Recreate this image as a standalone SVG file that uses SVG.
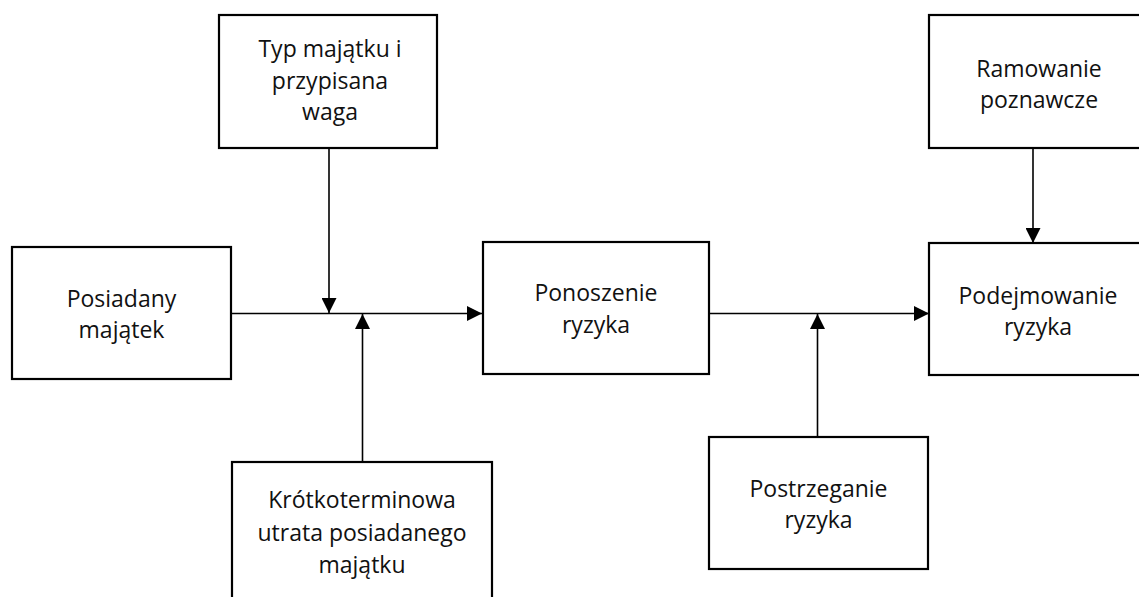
<svg xmlns="http://www.w3.org/2000/svg" width="1139" height="597" viewBox="0 0 1139 597">
  <style>
    .box { fill: #ffffff; stroke: #000000; stroke-width: 2.2; }
    .lbl { font-family: "Open Sans", "Noto Sans", "Liberation Sans", sans-serif; font-size: 23px; fill: #111111; text-anchor: middle; }
    .edge { fill: none; stroke: #000000; stroke-width: 1.6; }
  </style>
  <defs>
    <marker id="arrow" viewBox="0 0 15 15" refX="15" refY="7.5" markerWidth="15" markerHeight="15" markerUnits="userSpaceOnUse" orient="auto">
      <path d="M0,0 L15,7.5 L0,15 Z" fill="#000000"/>
    </marker>
  </defs>
  <rect width="1139" height="597" fill="#ffffff"/>

  <!-- connectors -->
  <g id="connectors">
    <line class="edge" x1="231" y1="313.5" x2="482" y2="313.5" marker-end="url(#arrow)"/>
    <line class="edge" x1="329" y1="148" x2="329" y2="313" marker-end="url(#arrow)"/>
    <line class="edge" x1="362.5" y1="462" x2="362.5" y2="314" marker-end="url(#arrow)"/>
    <line class="edge" x1="709" y1="313.5" x2="929" y2="313.5" marker-end="url(#arrow)"/>
    <line class="edge" x1="817.5" y1="437" x2="817.5" y2="314" marker-end="url(#arrow)"/>
    <line class="edge" x1="1033" y1="148" x2="1033" y2="243" marker-end="url(#arrow)"/>
  </g>

  <!-- nodes -->
  <g id="typ-majatku">
    <rect class="box" x="219" y="15" width="218" height="133"/>
    <text class="lbl" x="330" y="57">Typ majątku i</text>
    <text class="lbl" x="330" y="88.5">przypisana</text>
    <text class="lbl" x="330" y="120">waga</text>
  </g>

  <g id="posiadany-majatek">
    <rect class="box" x="12" y="247" width="219" height="132"/>
    <text class="lbl" x="121.5" y="307">Posiadany</text>
    <text class="lbl" x="121.5" y="338">majątek</text>
  </g>

  <g id="krotkoterminowa">
    <rect class="box" x="232" y="462" width="260" height="150"/>
    <text class="lbl" x="362" y="508">Krótkoterminowa</text>
    <text class="lbl" x="362" y="540.5">utrata posiadanego</text>
    <text class="lbl" x="362" y="573">majątku</text>
  </g>

  <g id="ponoszenie-ryzyka">
    <rect class="box" x="483" y="242" width="226" height="132"/>
    <text class="lbl" x="596" y="301">Ponoszenie</text>
    <text class="lbl" x="596" y="332.5">ryzyka</text>
  </g>

  <g id="postrzeganie-ryzyka">
    <rect class="box" x="709" y="437" width="219" height="132"/>
    <text class="lbl" x="818.5" y="497">Postrzeganie</text>
    <text class="lbl" x="818.5" y="528">ryzyka</text>
  </g>

  <g id="ramowanie-poznawcze">
    <rect class="box" x="929" y="15" width="222" height="133"/>
    <text class="lbl" x="1039" y="77">Ramowanie</text>
    <text class="lbl" x="1039" y="108">poznawcze</text>
  </g>

  <g id="podejmowanie-ryzyka">
    <rect class="box" x="929" y="243" width="222" height="132"/>
    <text class="lbl" x="1038" y="304">Podejmowanie</text>
    <text class="lbl" x="1038" y="335">ryzyka</text>
  </g>
</svg>
